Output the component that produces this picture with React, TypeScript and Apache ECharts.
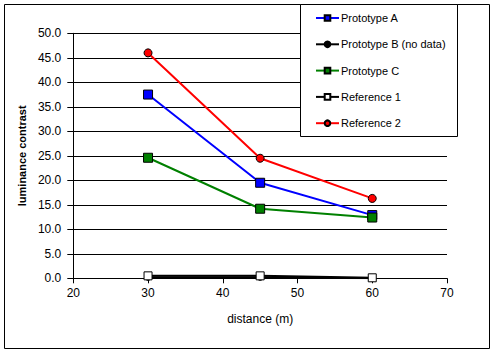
import React, { useEffect, useRef } from "react";
import * as echarts from "echarts";

const distances = [30, 45, 60];
const prototypeA = [37.5, 19.5, 12.9];
const prototypeB = [0.2, 0.2, 0.0];
const prototypeC = [24.6, 14.2, 12.4];
const reference1 = [0.5, 0.5, 0.1];
const reference2 = [46.0, 24.5, 16.3];

const seriesNames = ["Prototype A", "Prototype B (no data)", "Prototype C", "Reference 1", "Reference 2"];

const FONT = "'Liberation Sans', Arial, sans-serif";

function pairs(vals: number[]) {
  return distances.map((d, i) => [d, vals[i]]);
}

export default function App() {
  const ref = useRef<HTMLDivElement>(null);
  useEffect(() => {
    if (!ref.current) return;
    const chart = echarts.init(ref.current, undefined, { renderer: "svg" });
    const mk = (
      name: string,
      vals: number[],
      color: string,
      symbol: string,
      size: number,
      fill: string
    ) => ({
      name,
      type: "line",
      data: pairs(vals),
      symbol,
      symbolSize: size,
      lineStyle: { color, width: 2 },
      itemStyle: { color: fill, borderColor: "#000", borderWidth: 1 },
      emphasis: { disabled: true },
    });
    chart.setOption({
      animation: false,
      backgroundColor: "#fff",
      textStyle: { fontFamily: FONT },
      graphic: [
        {
          type: "rect",
          shape: { x: 4.5, y: 4.5, width: 485, height: 344 },
          style: { fill: "none", stroke: "#000", lineWidth: 1 },
          silent: true,
          z: -1,
        },
        {
          type: "rect",
          shape: { x: 300.5, y: 4.5, width: 157, height: 132 },
          style: { fill: "#fff", stroke: "#000", lineWidth: 1 },
          silent: true,
          z: 3,
        },
      ],
      legend: {
        orient: "vertical",
        left: 315,
        top: 12.5,
        padding: 0,
        itemWidth: 23,
        itemHeight: 7,
        itemGap: 15.3,
        data: seriesNames,
        textStyle: { fontFamily: FONT, fontSize: 11, color: "#000", padding: [0, 0, 0, -3] },
        selectedMode: false,
        z: 5,
      },
      grid: { left: 73.3, right: 47, top: 33.3, bottom: 74.7, containLabel: false },
      xAxis: {
        type: "value",
        min: 20,
        max: 70,
        interval: 10,
        name: "distance (m)",
        nameLocation: "middle",
        nameGap: 35,
        nameTextStyle: { fontFamily: FONT, fontSize: 12, color: "#000" },
        axisLine: { lineStyle: { color: "#000", width: 1 } },
        axisTick: { show: true, length: 5, lineStyle: { color: "#000" } },
        axisLabel: { fontFamily: FONT, fontSize: 12, color: "#000", margin: 9 },
        splitLine: { show: false },
      },
      yAxis: {
        type: "value",
        min: 0,
        max: 50,
        interval: 5,
        name: "luminance contrast",
        nameLocation: "middle",
        nameGap: 41,
        nameTextStyle: { fontFamily: FONT, fontSize: 11, fontWeight: "bold", color: "#000" },
        axisLine: { show: true, lineStyle: { color: "#000", width: 1 } },
        axisTick: { show: true, length: 6, lineStyle: { color: "#000" } },
        axisLabel: {
          fontFamily: FONT,
          fontSize: 12,
          color: "#000",
          margin: 12,
          formatter: (v: number) => v.toFixed(1),
        },
        splitLine: { show: true, lineStyle: { color: "#000", width: 1 } },
      },
      series: [
        mk(seriesNames[0], prototypeA, "#0000FF", "rect", 9, "#0000FF"),
        mk(seriesNames[1], prototypeB, "#000000", "circle", 6, "#000000"),
        mk(seriesNames[2], prototypeC, "#008000", "rect", 9, "#008000"),
        mk(seriesNames[3], reference1, "#000000", "rect", 8, "#FFFFFF"),
        mk(seriesNames[4], reference2, "#FF0000", "circle", 8, "#FF0000"),
      ],
    });
    return () => chart.dispose();
  }, []);
  return (
    <div
      ref={ref}
      style={{ position: "fixed", left: 0, top: 0, width: 494, height: 353 }}
    />
  );
}
